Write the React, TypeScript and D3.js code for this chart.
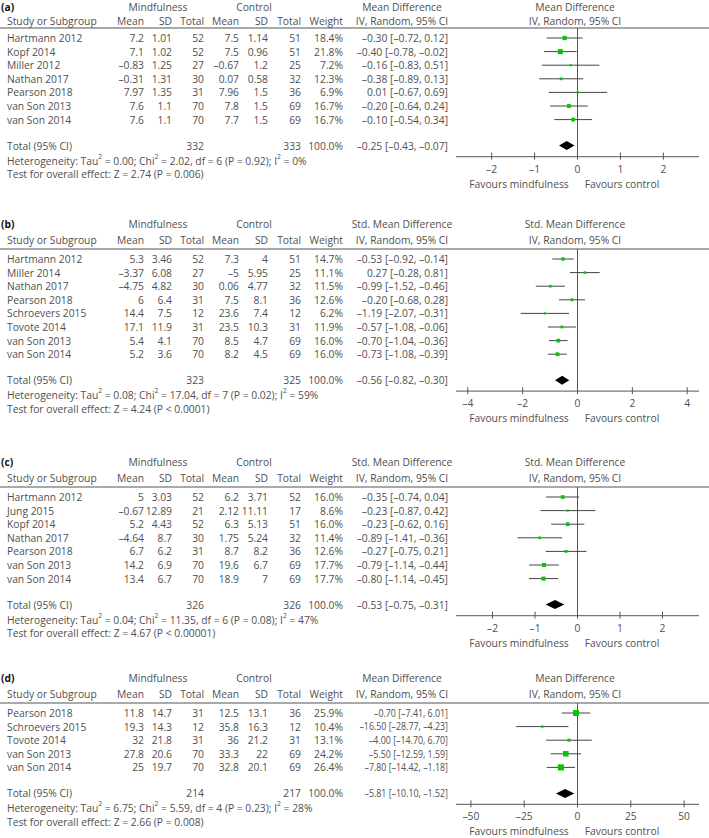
import React from "react";
import * as d3 from "d3";

// ---------- Panel (a) ----------
const studiesA = ["Hartmann 2012", "Kopf 2014", "Miller 2012", "Nathan 2017", "Pearson 2018", "van Son 2013", "van Son 2014"];
const mMeanA = [7.2, 7.1, -0.83, -0.31, 7.97, 7.6, 7.6];
const mSDA = [1.01, 1.02, 1.25, 1.31, 1.35, 1.1, 1.1];
const mNA = [52, 52, 27, 30, 31, 70, 70];
const cMeanA = [7.5, 7.5, -0.67, 0.07, 7.96, 7.8, 7.7];
const cSDA = [1.14, 0.96, 1.2, 0.58, 1.5, 1.5, 1.5];
const cNA = [51, 51, 25, 32, 36, 69, 69];
const weightA = [18.4, 21.8, 7.2, 12.3, 6.9, 16.7, 16.7];
const effA = [-0.3, -0.4, -0.16, -0.38, 0.01, -0.2, -0.1];
const loA = [-0.72, -0.78, -0.83, -0.89, -0.67, -0.64, -0.54];
const hiA = [0.12, -0.02, 0.51, 0.13, 0.69, 0.24, 0.34];
const totalA = { mN: 332, cN: 333, est: -0.25, lo: -0.43, hi: -0.07, tau2: "0.00", chi2: "2.02", df: 6, pHet: "0.92", i2: 0, z: "2.74", p: "= 0.006" };
const ticksA = [-2, -1, 0, 1, 2];

// ---------- Panel (b) ----------
const studiesB = ["Hartmann 2012", "Miller 2014", "Nathan 2017", "Pearson 2018", "Schroevers 2015", "Tovote 2014", "van Son 2013", "van Son 2014"];
const mMeanB = [5.3, -3.37, -4.75, 6, 14.4, 17.1, 5.4, 5.2];
const mSDB = [3.46, 6.08, 4.82, 6.4, 7.5, 11.9, 4.1, 3.6];
const mNB = [52, 27, 30, 31, 12, 31, 70, 70];
const cMeanB = [7.3, -5, 0.06, 7.5, 23.6, 23.5, 8.5, 8.2];
const cSDB = [4, 5.95, 4.77, 8.1, 7.4, 10.3, 4.7, 4.5];
const cNB = [51, 25, 32, 36, 12, 31, 69, 69];
const weightB = [14.7, 11.1, 11.5, 12.6, 6.2, 11.9, 16.0, 16.0];
const effB = [-0.53, 0.27, -0.99, -0.2, -1.19, -0.57, -0.7, -0.73];
const loB = [-0.92, -0.28, -1.52, -0.68, -2.07, -1.08, -1.04, -1.08];
const hiB = [-0.14, 0.81, -0.46, 0.28, -0.31, -0.06, -0.36, -0.39];
const totalB = { mN: 323, cN: 325, est: -0.56, lo: -0.82, hi: -0.3, tau2: "0.08", chi2: "17.04", df: 7, pHet: "0.02", i2: 59, z: "4.24", p: "< 0.0001" };
const ticksB = [-4, -2, 0, 2, 4];

// ---------- Panel (c) ----------
const studiesC = ["Hartmann 2012", "Jung 2015", "Kopf 2014", "Nathan 2017", "Pearson 2018", "van Son 2013", "van Son 2014"];
const mMeanC = [5, -0.67, 5.2, -4.64, 6.7, 14.2, 13.4];
const mSDC = [3.03, 12.89, 4.43, 8.7, 6.2, 6.9, 6.7];
const mNC = [52, 21, 52, 30, 31, 70, 70];
const cMeanC = [6.2, 2.12, 6.3, 1.75, 8.7, 19.6, 18.9];
const cSDC = [3.71, 11.11, 5.13, 5.24, 8.2, 6.7, 7];
const cNC = [52, 17, 51, 32, 36, 69, 69];
const weightC = [16.0, 8.6, 16.0, 11.4, 12.6, 17.7, 17.7];
const effC = [-0.35, -0.23, -0.23, -0.89, -0.27, -0.79, -0.8];
const loC = [-0.74, -0.87, -0.62, -1.41, -0.75, -1.14, -1.14];
const hiC = [0.04, 0.42, 0.16, -0.36, 0.21, -0.44, -0.45];
const totalC = { mN: 326, cN: 326, est: -0.53, lo: -0.75, hi: -0.31, tau2: "0.04", chi2: "11.35", df: 6, pHet: "0.08", i2: 47, z: "4.67", p: "< 0.00001" };
const ticksC = [-2, -1, 0, 1, 2];

// ---------- Panel (d) ----------
const studiesD = ["Pearson 2018", "Schroevers 2015", "Tovote 2014", "van Son 2013", "van Son 2014"];
const mMeanD = [11.8, 19.3, 32, 27.8, 25];
const mSDD = [14.7, 14.3, 21.8, 20.6, 19.7];
const mND = [31, 12, 31, 70, 70];
const cMeanD = [12.5, 35.8, 36, 33.3, 32.8];
const cSDD = [13.1, 16.3, 21.2, 22, 20.1];
const cND = [36, 12, 31, 69, 69];
const weightD = [25.9, 10.4, 13.1, 24.2, 26.4];
const effD = [-0.7, -16.5, -4.0, -5.5, -7.8];
const loD = [-7.41, -28.77, -14.7, -12.59, -14.42];
const hiD = [6.01, -4.23, 6.7, 1.59, -1.18];
const totalD = { mN: 214, cN: 217, est: -5.81, lo: -10.1, hi: -1.52, tau2: "6.75", chi2: "5.59", df: 4, pHet: "0.23", i2: 28, z: "2.66", p: "= 0.008" };
const ticksD = [-50, -25, 0, 25, 50];

const FONT = "'Open Sans', 'Noto Sans', sans-serif";
const TXT = "#505050";
const dash = (s: string) => s.replace(/-/g, "\u2013");
const num = (v: number) => dash(String(v));
const f2 = (v: number) => dash(v.toFixed(2));

interface PanelProps {
  label: string;
  top: number;
  measure: string;
  studies: string[];
  mMean: number[]; mSD: number[]; mN: number[];
  cMean: number[]; cSD: number[]; cN: number[];
  weight: number[]; eff: number[]; lo: number[]; hi: number[];
  total: any;
  ticks: number[];
  domain: number;
  ciSquash?: number;
}

const colRight = [144, 172, 204, 239, 268, 301, 343];
const ciRight = 448;
const rowGap = 13.6;

function Sup({ children }: { children: string }) {
  return (
    <tspan baselineShift="super" fontSize={6.8}>{children}</tspan>
  );
}

function Panel(p: PanelProps) {
  const L = p.top;
  const sq = p.ciSquash ?? 1;
  const x = d3.scaleLinear().domain([-p.domain, p.domain]).range([456, 699]);
  const rowY = (i: number) => L + 10 + i * rowGap;
  const lastY = rowY(p.studies.length - 1);
  const totY = lastY + 26;
  const hetY = totY + 15;
  const testY = hetY + 13.5;
  const axisY = totY + 11;
  const headerTop = Math.max(6.5, L - 25);
  const headerBot = Math.max(21, L - 9);
  const t = p.total;
  const cols = (i: number) => [num(p.mMean[i]), num(p.mSD[i]), String(p.mN[i]), num(p.cMean[i]), num(p.cSD[i]), String(p.cN[i]), p.weight[i].toFixed(1) + "%"];
  const ciText = (y: number, s: string) => (
    <text transform={`translate(${ciRight},${y}) scale(${sq},1)`} dominantBaseline="central" textAnchor="end">{s}</text>
  );
  return (
    <g fontFamily={FONT} fontSize={10.3} fill={TXT}>
      <text x={1} y={headerTop} dominantBaseline="central" fontWeight="bold" fill="#111">{p.label}</text>
      <text x={158} y={headerTop} dominantBaseline="central" textAnchor="middle">Mindfulness</text>
      <text x={254} y={headerTop} dominantBaseline="central" textAnchor="middle">Control</text>
      <text x={402} y={headerTop} dominantBaseline="central" textAnchor="middle">{p.measure}</text>
      <text x={575} y={headerTop} dominantBaseline="central" textAnchor="middle">{p.measure}</text>
      <text x={7} y={headerBot} dominantBaseline="central">Study or Subgroup</text>
      {["Mean", "SD", "Total", "Mean", "SD", "Total", "Weight"].map((h, j) => (
        <text key={j} x={colRight[j]} y={headerBot} dominantBaseline="central" textAnchor="end">{h}</text>
      ))}
      <text x={402} y={headerBot} dominantBaseline="central" textAnchor="middle">IV, Random, 95% CI</text>
      <text x={575} y={headerBot} dominantBaseline="central" textAnchor="middle">IV, Random, 95% CI</text>
      <line x1={0} x2={709} y1={L} y2={L} stroke="#555" strokeWidth={1.2} />
      <line x1={x(0)} x2={x(0)} y1={L} y2={axisY} stroke="#555" strokeWidth={1} />
      {p.studies.map((s, i) => {
        const y = rowY(i);
        const side = Math.max(2.2, p.weight[i] * 0.23);
        return (
          <g key={s}>
            <text x={7} y={y} dominantBaseline="central">{s}</text>
            {cols(i).map((v, j) => (
              <text key={j} x={colRight[j]} y={y} dominantBaseline="central" textAnchor="end">{v}</text>
            ))}
            {ciText(y, `${f2(p.eff[i])} [${f2(p.lo[i])}, ${f2(p.hi[i])}]`)}
            <line x1={x(p.lo[i])} x2={x(p.hi[i])} y1={y} y2={y} stroke="#444" strokeWidth={1} />
            <rect x={x(p.eff[i]) - side / 2} y={y - side / 2} width={side} height={side} fill="#00c800" />
          </g>
        );
      })}
      <text x={7} y={totY} dominantBaseline="central">Total (95% CI)</text>
      <text x={colRight[2]} y={totY} dominantBaseline="central" textAnchor="end">{t.mN}</text>
      <text x={colRight[5]} y={totY} dominantBaseline="central" textAnchor="end">{t.cN}</text>
      <text x={colRight[6]} y={totY} dominantBaseline="central" textAnchor="end">100.0%</text>
      {ciText(totY, `${f2(t.est)} [${f2(t.lo)}, ${f2(t.hi)}]`)}
      <polygon
        points={[[x(t.lo), totY], [x(t.est), totY - 4.5], [x(t.hi), totY], [x(t.est), totY + 4.5]].map((q) => q.join(",")).join(" ")}
        fill="#000"
      />
      <text x={7} y={hetY} dominantBaseline="central">
        Heterogeneity: Tau<Sup>2</Sup>{` = ${t.tau2}; Chi`}<Sup>2</Sup>{` = ${t.chi2}, df = ${t.df} (P = ${t.pHet}); I`}<Sup>2</Sup>{` = ${t.i2}%`}
      </text>
      <text x={7} y={testY} dominantBaseline="central">{`Test for overall effect: Z = ${t.z} (P ${t.p})`}</text>
      <line x1={456} x2={699} y1={axisY} y2={axisY} stroke="#777" strokeWidth={1.2} />
      {p.ticks.map((v) => (
        <g key={v}>
          <line x1={x(v)} x2={x(v)} y1={axisY - 4} y2={axisY + 3} stroke="#555" strokeWidth={1} />
          <text x={x(v)} y={axisY + 12} dominantBaseline="central" textAnchor="middle">{num(v)}</text>
        </g>
      ))}
      <text x={519} y={axisY + 27} dominantBaseline="central" textAnchor="middle">Favours mindfulness</text>
      <text x={622} y={axisY + 27} dominantBaseline="central" textAnchor="middle">Favours control</text>
    </g>
  );
}

export default function App() {
  return (
    <svg width={709} height={838} style={{ position: "absolute", left: 0, top: 0, background: "#fff" }}>
      <rect width={709} height={838} fill="#fff" />
      <Panel label="(a)" top={28} measure="Mean Difference" studies={studiesA}
        mMean={mMeanA} mSD={mSDA} mN={mNA} cMean={cMeanA} cSD={cSDA} cN={cNA}
        weight={weightA} eff={effA} lo={loA} hi={hiA} total={totalA} ticks={ticksA} domain={2.83} />
      <Panel label="(b)" top={249} measure="Std. Mean Difference" studies={studiesB}
        mMean={mMeanB} mSD={mSDB} mN={mNB} cMean={cMeanB} cSD={cSDB} cN={cNB}
        weight={weightB} eff={effB} lo={loB} hi={hiB} total={totalB} ticks={ticksB} domain={4.43} />
      <Panel label="(c)" top={487} measure="Std. Mean Difference" studies={studiesC}
        mMean={mMeanC} mSD={mSDC} mN={mNC} cMean={cMeanC} cSD={cSDC} cN={cNC}
        weight={weightC} eff={effC} lo={loC} hi={hiC} total={totalC} ticks={ticksC} domain={2.86} />
      <Panel label="(d)" top={703} measure="Mean Difference" studies={studiesD}
        mMean={mMeanD} mSD={mSDD} mN={mND} cMean={cMeanD} cSD={cSDD} cN={cND}
        weight={weightD} eff={effD} lo={loD} hi={hiD} total={totalD} ticks={ticksD} domain={57} ciSquash={0.86} />
    </svg>
  );
}
